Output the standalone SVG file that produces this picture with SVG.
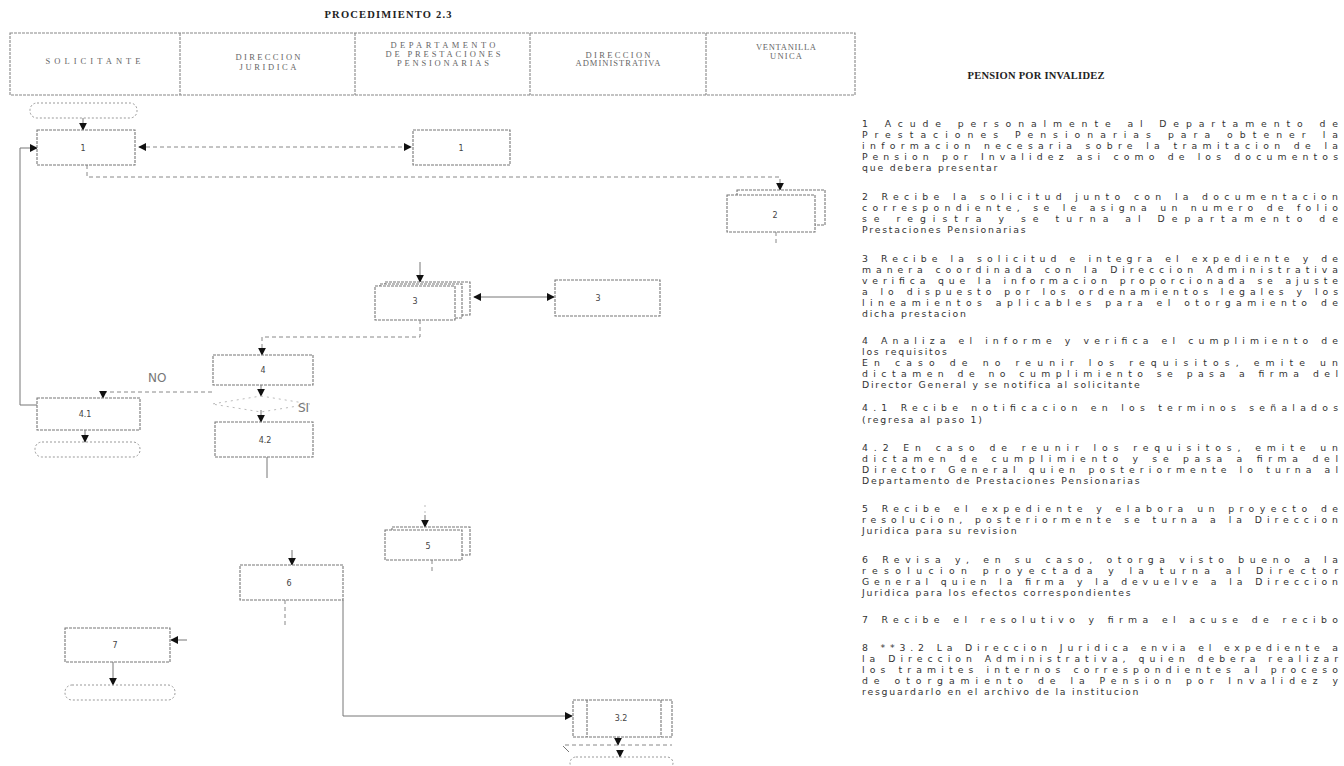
<svg xmlns="http://www.w3.org/2000/svg" width="1344" height="766" viewBox="0 0 1344 766">
<defs>
<marker id="ah" viewBox="0 0 10 10" refX="9" refY="5" markerWidth="8" markerHeight="8" markerUnits="userSpaceOnUse" orient="auto-start-reverse">
<path d="M0,0 L10,5 L0,10 z" fill="#111"/>
</marker>
<style>
.title{font-family:"Liberation Serif",serif;font-weight:bold;font-size:10.5px;fill:#222}
.hdr{font-family:"Liberation Serif",serif;font-size:8.5px;fill:#666}
.frame{fill:none;stroke:#888;stroke-width:1.1;stroke-dasharray:3 1}
.box{fill:#fff;stroke:#777;stroke-width:1.1;stroke-dasharray:3 1}
.term{fill:none;stroke:#999;stroke-width:1;stroke-dasharray:2 2}
.lbl{font-family:"DejaVu Sans",sans-serif;font-size:8px;fill:#444;text-anchor:middle}
.br{font-family:"DejaVu Sans",sans-serif;font-size:12px;fill:#777}
.c{fill:none;stroke:#777;stroke-width:1}
.cd{fill:none;stroke:#888;stroke-width:1;stroke-dasharray:4 3}
.faint{fill:none;stroke:#bbb;stroke-width:1;stroke-dasharray:2 4}
.p{font-family:"DejaVu Sans",sans-serif;font-size:9.3px;fill:#333}
.l{letter-spacing:1.8px}
</style>
</defs>
<rect width="1344" height="766" fill="#fff"/>

<text class="title" x="388" y="18" text-anchor="middle" textLength="127" lengthAdjust="spacing">PROCEDIMIENTO 2.3</text>

<g id="header">
<rect class="frame" x="10" y="33" width="845" height="62"/>
<line class="frame" x1="180" y1="33" x2="180" y2="95"/>
<line class="frame" x1="355" y1="33" x2="355" y2="95"/>
<line class="frame" x1="530" y1="33" x2="530" y2="95"/>
<line class="frame" x1="706" y1="33" x2="706" y2="95"/>
<text class="hdr" x="93" y="64" text-anchor="middle" textLength="95" lengthAdjust="spacing">SOLICITANTE</text>
<text class="hdr" x="268" y="60" text-anchor="middle" textLength="65" lengthAdjust="spacing">DIRECCION</text>
<text class="hdr" x="268" y="70" text-anchor="middle" textLength="57" lengthAdjust="spacing">JURIDICA</text>
<text class="hdr" x="443" y="48" text-anchor="middle" textLength="105" lengthAdjust="spacing">DEPARTAMENTO</text>
<text class="hdr" x="443" y="57" text-anchor="middle" textLength="115" lengthAdjust="spacing">DE PRESTACIONES</text>
<text class="hdr" x="443" y="66" text-anchor="middle" textLength="92" lengthAdjust="spacing">PENSIONARIAS</text>
<text class="hdr" x="618" y="58" text-anchor="middle" textLength="65" lengthAdjust="spacing">DIRECCION</text>
<text class="hdr" x="618" y="66" text-anchor="middle" textLength="85" lengthAdjust="spacing">ADMINISTRATIVA</text>
<text class="hdr" x="786" y="50" text-anchor="middle" textLength="60" lengthAdjust="spacing">VENTANILLA</text>
<text class="hdr" x="786" y="59" text-anchor="middle" textLength="32" lengthAdjust="spacing">UNICA</text>
</g>

<g id="connectors">
<line class="c" x1="83" y1="118" x2="83" y2="130" marker-end="url(#ah)"/>
<line class="cd" x1="139" y1="147" x2="411" y2="147" marker-start="url(#ah)" marker-end="url(#ah)"/>
<polyline class="c" points="37,405 20,405 20,148 37,148" marker-end="url(#ah)"/>
<polyline class="cd" points="87,165 87,177 780,177 780,190" marker-end="url(#ah)"/>
<line class="cd" x1="776" y1="232" x2="776" y2="246"/>
<line class="c" x1="420" y1="262" x2="420" y2="282" marker-end="url(#ah)"/>
<line class="c" x1="474" y1="297" x2="554" y2="297" marker-start="url(#ah)" marker-end="url(#ah)"/>
<polyline class="cd" points="420,320 420,337 262,337 262,355" marker-end="url(#ah)"/>
<line class="c" x1="261" y1="385" x2="261" y2="396" marker-end="url(#ah)"/>
<polyline class="cd" points="212,392 103,392 103,398" marker-end="url(#ah)"/>
<line class="c" x1="261" y1="410" x2="261" y2="422" marker-end="url(#ah)"/>
<line class="c" x1="85" y1="430" x2="85" y2="442" marker-end="url(#ah)"/>
<line class="c" x1="267" y1="457" x2="267" y2="478"/>
<line class="faint" x1="425" y1="505" x2="425" y2="515"/>
<line class="c" x1="425" y1="515" x2="425" y2="527" marker-end="url(#ah)"/>
<line class="cd" x1="432" y1="560" x2="432" y2="572"/>
<line class="c" x1="292" y1="550" x2="292" y2="565" marker-end="url(#ah)"/>
<line class="cd" x1="285" y1="600" x2="285" y2="625"/>
<polyline class="c" points="343,600 343,716 572,716" marker-end="url(#ah)"/>
<line class="c" x1="187" y1="640" x2="171" y2="640" marker-end="url(#ah)"/>
<line class="c" x1="113" y1="662" x2="113" y2="685" marker-end="url(#ah)"/>
<line class="c" x1="618" y1="737" x2="618" y2="745" marker-end="url(#ah)"/>
<line class="cd" x1="565" y1="745" x2="672" y2="745"/>
<line class="c" x1="563" y1="746" x2="569" y2="752"/>
<line class="c" x1="620" y1="750" x2="620" y2="757" marker-end="url(#ah)"/>
</g>

<g id="start">
<rect class="term" x="30" y="103" width="107" height="15" rx="7"/>
</g>
<g id="n1">
<rect class="box" x="37" y="130" width="98" height="35"/>
<text class="lbl" x="83" y="151">1</text>
</g>
<g id="n1b">
<rect class="box" x="413" y="130" width="97" height="35"/>
<text class="lbl" x="461" y="151">1</text>
</g>
<g id="n2">
<rect class="box" x="737" y="190" width="88" height="35"/>
<rect class="box" x="727" y="195" width="88" height="37"/>
<text class="lbl" x="775" y="218">2</text>
</g>
<g id="n3">
<rect class="box" x="385" y="282" width="85" height="33"/>
<rect class="box" x="380" y="284" width="82" height="34"/>
<rect class="box" x="375" y="286" width="80" height="34"/>
<text class="lbl" x="415" y="304">3</text>
</g>
<g id="n3b">
<rect class="box" x="555" y="280" width="105" height="36"/>
<text class="lbl" x="598" y="301">3</text>
</g>
<g id="n4">
<rect class="box" x="213" y="355" width="100" height="30"/>
<text class="lbl" x="263" y="373">4</text>
</g>
<g id="d4">
<polygon class="faint" points="261,396 310,404 261,412 212,404"/>
<text class="br" x="148" y="382">NO</text>
<text class="br" x="298" y="412">SI</text>
</g>
<g id="n41">
<rect class="box" x="37" y="398" width="103" height="32"/>
<text class="lbl" x="85" y="417">4.1</text>
</g>
<g id="t41">
<rect class="term" x="35" y="442" width="105" height="15" rx="7"/>
</g>
<g id="n42">
<rect class="box" x="215" y="422" width="98" height="35"/>
<text class="lbl" x="265" y="443">4.2</text>
</g>
<g id="n5">
<rect class="box" x="392" y="527" width="78" height="28"/>
<rect class="box" x="385" y="530" width="77" height="30"/>
<text class="lbl" x="428" y="549">5</text>
</g>
<g id="n6">
<rect class="box" x="240" y="565" width="103" height="35"/>
<text class="lbl" x="289" y="586">6</text>
</g>
<g id="n7">
<rect class="box" x="65" y="628" width="105" height="34"/>
<text class="lbl" x="115" y="648">7</text>
</g>
<g id="t7">
<rect class="term" x="65" y="685" width="110" height="15" rx="7"/>
</g>
<g id="n32">
<rect class="box" x="573" y="700" width="99" height="37"/>
<line class="box" x1="587" y1="700" x2="587" y2="737"/>
<line class="box" x1="661" y1="700" x2="661" y2="737"/>
<text class="lbl" x="621" y="721">3.2</text>
</g>
<g id="t32">
<rect class="term" x="570" y="757" width="103" height="12" rx="6"/>
</g>

<text class="title" x="1036" y="79" text-anchor="middle" textLength="137" lengthAdjust="spacing">PENSION POR INVALIDEZ</text>

<g id="texto">
<text class="p" x="862" y="127" textLength="476" lengthAdjust="spacing">1  Acude personalmente al Departamento de</text>
<text class="p" x="862" y="138" textLength="476" lengthAdjust="spacing">Prestaciones Pensionarias para obtener la</text>
<text class="p" x="862" y="149" textLength="476" lengthAdjust="spacing">informacion necesaria sobre la tramitacion de la</text>
<text class="p" x="862" y="160" textLength="476" lengthAdjust="spacing">Pension por Invalidez asi como de los documentos</text>
<text class="p l" x="862" y="171">que debera presentar</text>

<text class="p" x="862" y="200" textLength="476" lengthAdjust="spacing">2  Recibe la solicitud junto con la documentacion</text>
<text class="p" x="862" y="211" textLength="476" lengthAdjust="spacing">correspondiente, se le asigna un numero de folio</text>
<text class="p" x="862" y="222" textLength="476" lengthAdjust="spacing">se registra y se turna al Departamento de</text>
<text class="p l" x="862" y="233">Prestaciones Pensionarias</text>

<text class="p" x="862" y="262" textLength="476" lengthAdjust="spacing">3  Recibe la solicitud e integra el expediente y de</text>
<text class="p" x="862" y="273" textLength="476" lengthAdjust="spacing">manera coordinada con la Direccion Administrativa</text>
<text class="p" x="862" y="284" textLength="476" lengthAdjust="spacing">verifica que la informacion proporcionada se ajuste</text>
<text class="p" x="862" y="295" textLength="476" lengthAdjust="spacing">a lo dispuesto por los ordenamientos legales y los</text>
<text class="p" x="862" y="306" textLength="476" lengthAdjust="spacing">lineamientos aplicables para el otorgamiento de</text>
<text class="p l" x="862" y="317">dicha prestacion</text>

<text class="p" x="862" y="344" textLength="476" lengthAdjust="spacing">4  Analiza el informe y verifica el cumplimiento de</text>
<text class="p l" x="862" y="355">los requisitos</text>
<text class="p" x="862" y="366" textLength="476" lengthAdjust="spacing">En caso de no reunir los requisitos, emite un</text>
<text class="p" x="862" y="377" textLength="476" lengthAdjust="spacing">dictamen de no cumplimiento se pasa a firma del</text>
<text class="p l" x="862" y="388">Director General y se notifica al solicitante</text>

<text class="p" x="862" y="411" textLength="476" lengthAdjust="spacing">4.1  Recibe notificacion en los terminos señalados</text>
<text class="p l" x="862" y="423">(regresa al paso 1)</text>

<text class="p" x="862" y="451" textLength="476" lengthAdjust="spacing">4.2  En caso de reunir los requisitos, emite un</text>
<text class="p" x="862" y="462" textLength="476" lengthAdjust="spacing">dictamen de cumplimiento y se pasa a firma del</text>
<text class="p" x="862" y="473" textLength="476" lengthAdjust="spacing">Director General quien posteriormente lo turna al</text>
<text class="p l" x="862" y="484">Departamento de Prestaciones Pensionarias</text>

<text class="p" x="862" y="512" textLength="476" lengthAdjust="spacing">5  Recibe el expediente y elabora un proyecto de</text>
<text class="p" x="862" y="523" textLength="476" lengthAdjust="spacing">resolucion, posteriormente se turna a la Direccion</text>
<text class="p l" x="862" y="534">Juridica para su revision</text>

<text class="p" x="862" y="563" textLength="476" lengthAdjust="spacing">6  Revisa y, en su caso, otorga visto bueno a la</text>
<text class="p" x="862" y="574" textLength="476" lengthAdjust="spacing">resolucion proyectada y la turna al Director</text>
<text class="p" x="862" y="585" textLength="476" lengthAdjust="spacing">General quien la firma y la devuelve a la Direccion</text>
<text class="p l" x="862" y="596">Juridica para los efectos correspondientes</text>

<text class="p" x="862" y="623" textLength="476" lengthAdjust="spacing">7  Recibe el resolutivo y firma el acuse de recibo</text>

<text class="p" x="862" y="651" textLength="476" lengthAdjust="spacing">8  **3.2  La Direccion Juridica envia el expediente a</text>
<text class="p" x="862" y="662" textLength="476" lengthAdjust="spacing">la Direccion Administrativa, quien debera realizar</text>
<text class="p" x="862" y="673" textLength="476" lengthAdjust="spacing">los tramites internos correspondientes al proceso</text>
<text class="p" x="862" y="684" textLength="476" lengthAdjust="spacing">de otorgamiento de la Pension por Invalidez y</text>
<text class="p l" x="862" y="695">resguardarlo en el archivo de la institucion</text>
</g>
</svg>
